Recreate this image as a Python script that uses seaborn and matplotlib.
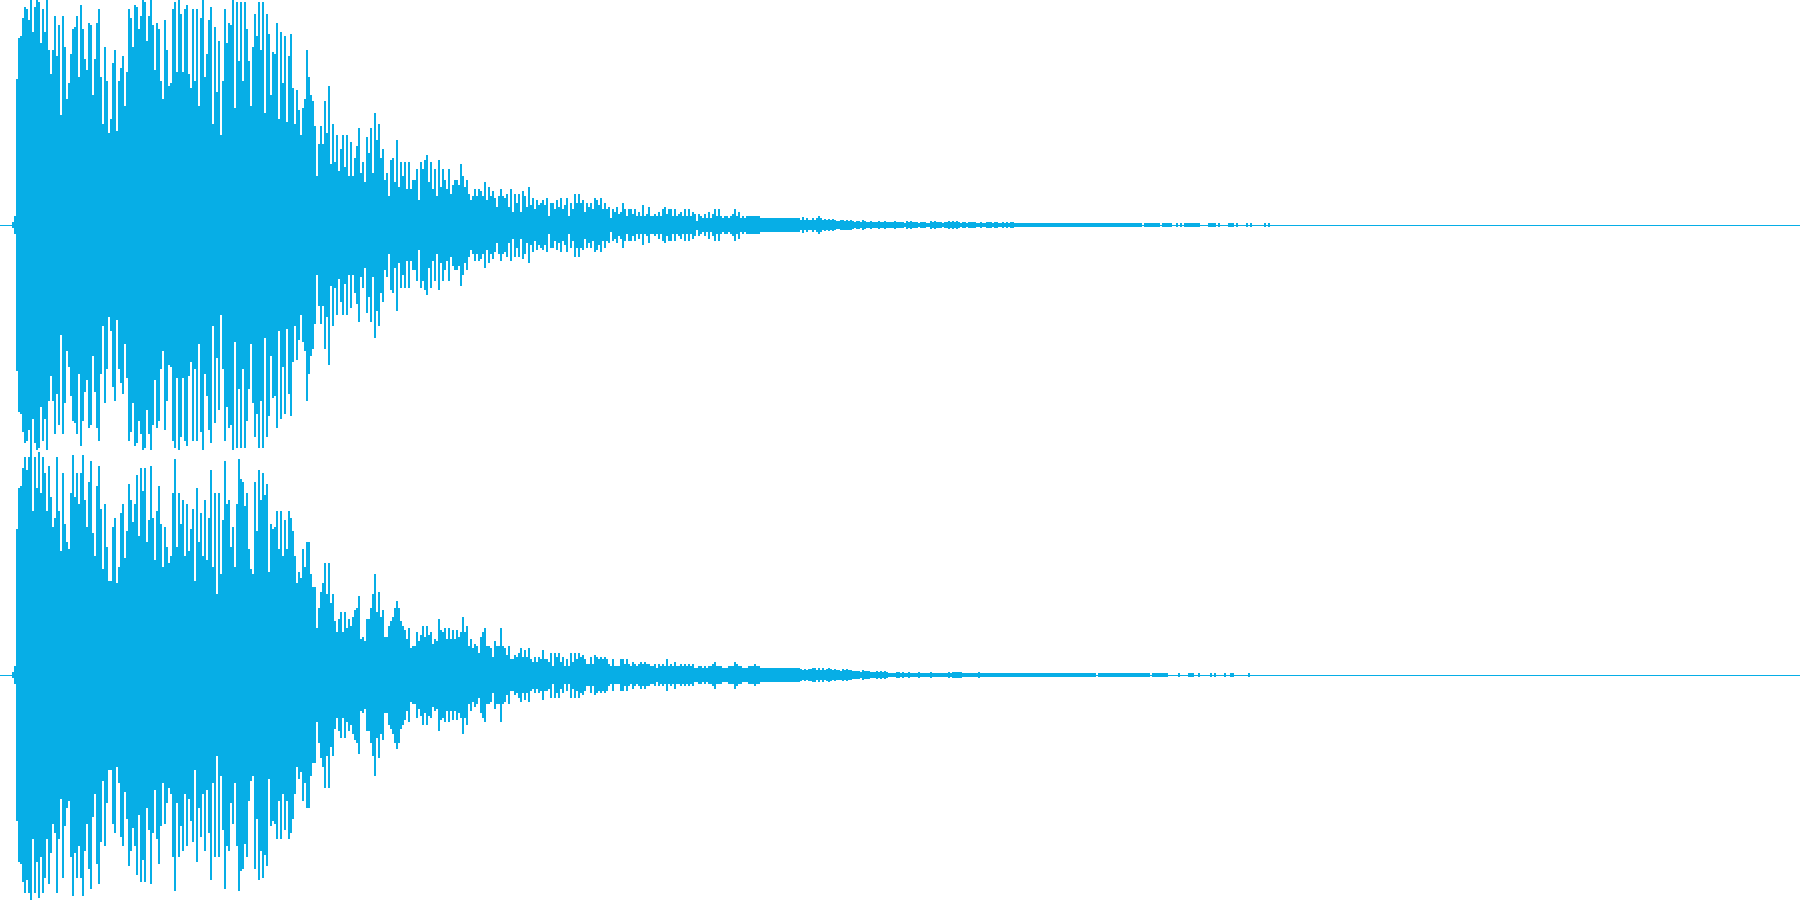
import numpy as np
import pandas as pd
import matplotlib.pyplot as plt
import seaborn as sns

# Peak amplitude per 2px column, percent of full scale
lead_in = [1.5, 4]

top_body = [
    65, 83, 84, 92, 97, 96, 91, 100, 86, 97,
    100, 99, 81, 96, 86, 100, 78, 67, 78, 93,
    75, 89, 49, 93, 79, 56, 63, 76, 87, 88,
    93, 66, 98, 87, 74, 69, 90, 89, 58, 74, 90,
    96, 66, 45, 79, 64, 41, 47, 72, 78, 42,
    64, 70, 75, 53, 68, 96, 92, 79, 98, 97,
    87, 93, 100, 99, 82, 93, 100, 89, 69, 90,
    87, 64, 56, 91, 78, 62, 63, 96, 99, 68,
    100, 94, 68, 96, 98, 67, 61, 96, 64, 96,
    53, 92, 100, 66, 76, 91, 97, 45, 88, 59,
    82, 40, 64, 96, 81, 90, 89, 100, 52, 99,
    73, 99, 64, 99, 87, 73, 53, 79, 94, 84,
    99, 78, 99, 50, 94, 85, 58, 77, 76, 90,
    47, 86, 63, 84, 46, 75, 85, 61, 45, 60,
    51, 40, 52, 56, 78, 66, 58, 55, 44, 22,
    36, 44, 36, 55, 41, 62, 27, 45, 28, 40,
    24, 34, 40, 26, 40, 22, 37, 22, 30, 35,
    43, 23, 28, 19, 39, 32, 43, 23, 50, 38,
    45, 30, 34, 20, 23, 13, 29, 30, 19, 38, 17, 28,
    22, 28, 16, 28, 16, 20, 20, 25, 11, 28,
    25, 29, 31, 19, 28, 16, 25, 13, 29, 17, 25, 20, 16, 25,
]
top_mid = [
    14, 18, 20, 20, 18, 27, 22, 17, 20, 14,
    11, 13, 16, 13, 16, 15, 13, 19, 11, 17,
    13, 15, 12, 8, 13, 16, 13, 12, 14, 8,
    16, 6, 14, 10, 14, 6, 15, 13, 8, 17,
    9, 12, 7, 11, 9, 10, 11, 9, 12, 4,
    10, 10, 7, 11, 8, 12, 7, 9, 12, 4,
    10, 7, 14, 10, 14, 10, 11, 6, 10, 8,
    10, 7, 12, 11, 9, 12, 7, 10, 7, 8,
    3, 7, 6, 8, 5, 6, 10, 7, 4, 7,
    7, 5, 7, 4, 6, 4, 9, 4, 5, 8,
    4, 4, 5, 4, 6, 4, 7, 8, 5, 7,
    7, 4, 7, 4, 5, 6, 4, 7, 4, 7,
    4, 6, 5, 2, 5, 4, 3, 5, 3, 6,
    3, 5, 7, 4, 7, 4, 3, 4, 4, 3,
    4, 5, 7, 4, 6, 3, 4, 3, 4, 4,
    4, 4, 4, 4, 4, 3, 3, 3, 3, 3,
    3, 3, 3, 3, 3, 3, 3, 3, 3, 3,
    3, 3, 3, 3, 3,
]
top_tail = [
    2.4, 3.6, 2.2, 3, 2.4, 2.2, 3, 2.2, 3, 3.9,
    3, 2.4, 2.8, 2.2, 2.8, 2.2, 2.6, 2.2, 1.8, 1.8,
    2.4, 2.4, 2, 2.2, 2, 2.2, 1.6, 1.4, 1.6, 1.6,
    1.4, 2.2, 1.6, 1.4, 1.4, 1.6, 1.2, 1.4, 1.4, 1.6,
    1.4, 1.2, 1.8, 1.4, 1.2, 1.4, 1.2, 1.6, 1.4, 1.2,
    1.2, 1.4, 1, 1.6, 1.4, 1.8, 1.4, 1.2, 1.2, 1,
    1.2, 1.2, 1.2, 1, 1, 1.6, 1.4, 1.8, 1.4, 1.4,
    1.2, 1, 1.4, 1.2, 1.8, 1.4, 1.8, 1.4, 1.8, 1.2,
    1, 1.2, 1.4, 1, 1.2, 1.4, 1.4, 1.2, 1, 1,
    1.2, 1, 0.9, 1.2, 1.2, 1.2, 0.8, 1.2, 1.2, 0.8,
    0.8, 1.2, 0.8, 1.2, 0.9, 1.2, 1.2, 0.8, 0.8, 0.8,
    0.7, 0.8, 0.7, 0.7, 1, 0.8, 1, 0.8, 1, 0.8,
    1, 0.7, 0.7, 1, 0.7, 1, 0.7, 1, 0.7, 0.7,
    1, 0.7, 1, 0.7, 1, 0.7, 0.7, 0.7, 0.7, 0.7,
    0.7, 0.7, 0.7, 0.7, 0.7, 0.7, 0.7, 0.7, 0.7, 0.7,
    0.7, 0.7, 0.7, 0.7, 0.7, 0.7, 0.7, 0.7, 0.7, 0.7,
    0.7, 0.7, 0.7, 0.7, 0.7, 0.7, 0.7, 0.7, 0.7, 0.7,
    0.7, 0, 0.7, 0.7, 0.7, 0.7, 0.7, 0.7, 0.7, 0.7,
    0, 0.7, 0.7, 0.7, 0.7, 0.7, 0, 0, 0.7, 0,
    0.7, 0, 0.7, 0.7, 0.7, 0.7, 0.7, 0.7, 0.7, 0.7,
    0, 0, 0, 0, 0.7, 0.7, 0.7, 0.7, 0, 0.7,
    0, 0, 0, 0, 0.7, 0.7, 0.7, 0, 0.7, 0,
    0, 0, 0, 0.7, 0, 0.7, 0, 0, 0, 0,
    0, 0, 0.7, 0, 0.7,
]

bottom_body = [
    65, 83, 84, 92, 97, 91, 97, 100, 73, 97,
    83, 99, 81, 97, 90, 73, 93, 79, 66, 70,
    97, 73, 55, 90, 67, 59, 56, 81, 98, 79,
    90, 76, 90, 98, 78, 66, 86, 95, 63, 53,
    84, 93, 74, 47, 76, 57, 42, 42, 66, 70,
    41, 48, 72, 76, 52, 64, 85, 78, 68, 76,
    89, 62, 92, 82, 92, 59, 69, 93, 70, 51,
    73, 84, 67, 48, 66, 57, 50, 53, 81, 96,
    57, 81, 67, 78, 53, 76, 55, 65, 74, 42,
    83, 59, 72, 53, 78, 51, 70, 91, 48, 81,
    36, 81, 45, 69, 95, 76, 78, 57, 66, 48,
    76, 96, 87, 86, 75, 81, 56, 47, 45, 86,
    64, 91, 78, 90, 80, 85, 46, 67, 65, 66,
    73, 56, 73, 53, 69, 56, 73, 70, 64, 53,
    41, 46, 43, 56, 48, 59, 59, 45, 39, 39,
    21, 30, 37, 41, 50, 36, 50, 32, 36, 24,
    19, 25, 28, 19, 28, 21, 25, 22, 26, 29,
    30, 35, 16, 17, 15, 25, 25, 30, 36, 45,
    28, 37, 26, 29, 17, 17, 22, 24, 26, 30,
    33, 30, 24, 22, 20, 16, 21, 12, 13, 13,
    19, 15, 18, 22, 17, 22, 18, 19, 14, 16,
    15, 25, 20, 19, 21, 16, 21,
]
bottom_mid = [
    16, 20, 16, 20, 17, 19, 26, 19, 22, 13,
    16, 12, 14, 13, 10, 17, 19, 21, 13, 13,
    12, 8, 15, 13, 13, 21, 13, 12, 9, 13,
    7, 7, 9, 8, 10, 12, 8, 11, 8, 12,
    7, 6, 8, 6, 8, 7, 11, 7, 7, 6,
    10, 4, 10, 8, 10, 6, 8, 4, 7, 4,
    10, 6, 10, 7, 10, 8, 9, 7, 5, 5,
    8, 5, 9, 8, 7, 8, 7, 8, 7, 5,
    4, 7, 4, 4, 4, 7, 7, 5, 7, 5,
    4, 6, 5, 4, 5, 6, 5, 6, 5, 5,
    4, 4, 5, 3, 5, 4, 5, 4, 7, 4,
    5, 4, 6, 4, 4, 5, 4, 5, 4, 5,
    4, 5, 3, 3, 4, 4, 3, 4, 3, 4,
    4, 5, 6, 4, 4, 4, 3, 3, 3, 4,
    4, 4, 6, 5, 4, 4, 3, 3, 3, 4,
    4, 4, 5, 4, 4, 3, 3, 3, 3, 3,
    3, 3, 3, 3, 3, 3, 3, 3, 3, 3,
    3, 3, 3, 3, 3,
]
bottom_tail = [
    2.8, 2.4, 2.8, 2.4, 2.6, 2.8, 3.2, 3.2, 2.4, 3.2,
    2.4, 3.2, 2.4, 2.8, 3.2, 2.6, 2.4, 2.6, 2.2, 2.4,
    2, 2.6, 2.4, 2.6, 2.4, 2.4, 1.6, 1.6, 1.6, 1.6,
    1.4, 2.4, 1.8, 1.6, 1.6, 1.4, 1.2, 1.4, 1.6, 1.2,
    1.6, 1.4, 1.6, 1.2, 1, 1, 1, 1, 1.2, 1.4,
    1, 1.2, 1, 1, 1.2, 0.9, 0.9, 0.9, 0.9, 1.4,
    1, 1, 0.9, 0.8, 0.8, 1.4, 1, 1, 1, 1,
    1, 0.8, 0.8, 1, 1.2, 1.1, 1.4, 1.2, 1.4, 1.2,
    1.2, 0.8, 0.8, 0.8, 1, 1, 0.9, 1.1, 1, 1.2,
    1, 0.8, 0.7, 0.7, 0.7, 0.8, 0.7, 0.9, 0.8, 0.8,
    0.8, 0.8, 0.7, 0.7, 0.7, 0.7, 0.7, 0.7, 1, 0.7,
    0.7, 0.7, 0.7, 0.7, 0.7, 0.7, 0.7, 0.7, 0.7, 0.7,
    0.7, 0.7, 0.7, 0.7, 0.7, 0.7, 0.7, 0.7, 0.7, 0.7,
    0.7, 0.7, 0.7, 0.7, 0.7, 0.7, 0.7, 0.7, 0.7, 0.7,
    0.7, 0.7, 0.7, 0.7, 0.7, 0.7, 0.7, 0.7, 0, 0.7,
    0.7, 0.7, 0.7, 0.7, 0.7, 0.7, 0.7, 0.7, 0.7, 0.7,
    0.7, 0.7, 0.7, 0.7, 0.7, 0.7, 0.7, 0.7, 0.7, 0.7,
    0.7, 0.7, 0.7, 0.7, 0.7, 0, 0.7, 0.7, 0.7, 0.7,
    0.7, 0.7, 0.7, 0.7, 0, 0, 0, 0, 0, 0.7,
    0, 0, 0, 0, 0.7, 0.7, 0.7, 0, 0, 0.7,
    0, 0, 0, 0, 0, 0.7, 0, 0.7, 0, 0,
    0, 0, 0.7, 0, 0, 0.7, 0.7, 0, 0, 0,
    0, 0, 0, 0, 0.7,
]

first_bar = 6
n_bars = 900
wave_color = '#07AEE6'
top_peaks = lead_in + top_body + top_mid + top_tail
bottom_peaks = lead_in + bottom_body + bottom_mid + bottom_tail


def channel_table(peaks):
    # one up/down pair per column, silent columns are left to the baseline
    bars = first_bar + np.arange(len(peaks)) + 0.5
    peaks = np.array(peaks)
    keep = peaks > 0
    return pd.DataFrame({
        'bar': np.repeat(bars[keep], 2),
        'amp': np.column_stack([peaks[keep], -peaks[keep]]).ravel(),
    })


sns.set_theme(style='white')
fig, axes = plt.subplots(2, 1, figsize=(18, 9), dpi=100)
fig.subplots_adjust(left=0, right=1, top=1, bottom=0, hspace=0)

for ax, peaks in zip(axes, [top_peaks, bottom_peaks]):
    sns.lineplot(
        data=pd.DataFrame({'bar': [0, n_bars], 'amp': [0, 0]}),
        x='bar', y='amp', color=wave_color, linewidth=0.72,
        antialiased=False, ax=ax
    )
    sns.lineplot(
        data=channel_table(peaks), x='bar', y='amp', units='bar',
        estimator=None, sort=False, color=wave_color, linewidth=1.44,
        antialiased=False, solid_capstyle='butt', legend=False, ax=ax
    )
    ax.set_xlim(0, n_bars)
    ax.set_ylim(-100, 100)
    ax.axis('off')

plt.savefig('out.png', dpi=100)
